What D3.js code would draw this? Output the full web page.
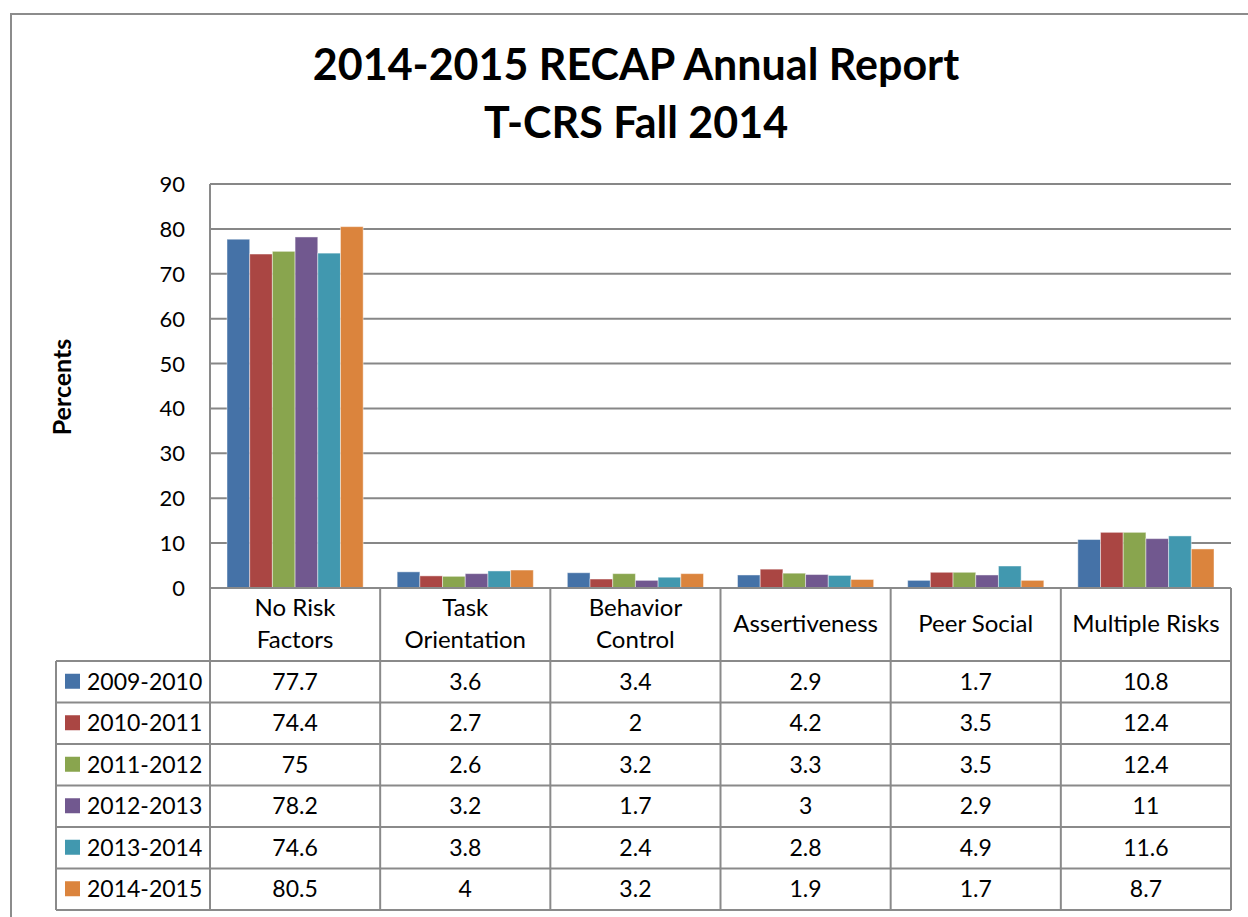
<!doctype html>
<html lang="en">
<head>
<meta charset="UTF-8">
<title>2014-2015 RECAP Annual Report</title>
<style>
  body { margin: 0; background: #fff; }
  svg { display: block; font-family: Lato, "Open Sans", sans-serif; }
  .grid line { stroke: #878787; stroke-width: 2px; }
  .tbl line { stroke: #8a8a8a; stroke-width: 2px; }
  .cell { font-size: 23px; fill: #000; text-anchor: middle; }
  .cat { font-size: 24px; fill: #000; text-anchor: middle; }
</style>
</head>
<body>
<svg width="1248" height="917"></svg>
<script src="https://d3js.org/d3.v7.min.js"></script>
<script>
// chart data
const categories = ["No Risk Factors", "Task Orientation", "Behavior Control", "Assertiveness", "Peer Social", "Multiple Risks"];
const catLines = [["No Risk", "Factors"], ["Task", "Orientation"], ["Behavior", "Control"], ["Assertiveness"], ["Peer Social"], ["Multiple Risks"]];
const years = ["2009-2010", "2010-2011", "2011-2012", "2012-2013", "2013-2014", "2014-2015"];
const v0910 = [77.7, 3.6, 3.4, 2.9, 1.7, 10.8];
const v1011 = [74.4, 2.7, 2, 4.2, 3.5, 12.4];
const v1112 = [75, 2.6, 3.2, 3.3, 3.5, 12.4];
const v1213 = [78.2, 3.2, 1.7, 3, 2.9, 11];
const v1314 = [74.6, 3.8, 2.4, 2.8, 4.9, 11.6];
const v1415 = [80.5, 4, 3.2, 1.9, 1.7, 8.7];
const yTicks = [0, 10, 20, 30, 40, 50, 60, 70, 80, 90];
const colors = ["#4572a7", "#aa4643", "#89a54e", "#71588f", "#4198af", "#db843d"];

const series = years.map((y, i) => ({ name: y, values: [v0910, v1011, v1112, v1213, v1314, v1415][i] }));

const svg = d3.select("svg");

// outer chart border
svg.append("rect")
  .attr("x", 11).attr("y", 14).attr("width", 1260).attr("height", 920)
  .attr("fill", "none").attr("stroke", "#8c8c8c").attr("stroke-width", 2);

// title
svg.append("text").attr("x", 636).attr("y", 80).attr("text-anchor", "middle")
  .style("font-size", "43px").style("font-weight", "bold").text("2014-2015 RECAP Annual Report");
svg.append("text").attr("x", 636).attr("y", 138).attr("text-anchor", "middle")
  .style("font-size", "43px").style("font-weight", "bold").text("T-CRS Fall 2014");

const plotL = 210, plotR = 1231, plotT = 184, plotB = 588;

const x = d3.scaleBand().domain(categories).range([plotL, plotR]).paddingInner(0).paddingOuter(0);
const inner = d3.scaleBand().domain(years).range([17, x.bandwidth() - 17]);
const y = d3.scaleLinear().domain([0, 90]).range([plotB, plotT]);

// gridlines
svg.append("g").attr("class", "grid")
  .selectAll("line").data(yTicks.slice(1)).join("line")
  .attr("x1", plotL).attr("x2", plotR)
  .attr("y1", d => y(d)).attr("y2", d => y(d));

// y axis labels
svg.append("g").selectAll("text").data(yTicks).join("text")
  .attr("x", 185).attr("y", d => y(d) + 8)
  .attr("text-anchor", "end").style("font-size", "22px")
  .text(d => d);

svg.append("text")
  .attr("transform", "translate(71,387) rotate(-90)")
  .attr("text-anchor", "middle").style("font-size", "25px").style("font-weight", "bold")
  .text("Percents");

// bars
const groups = svg.append("g").selectAll("g").data(series).join("g")
  .attr("fill", (d, i) => colors[i]);
groups.selectAll("rect").data(d => d.values.map((v, j) => ({ v, cat: categories[j], year: d.name })))
  .join("rect")
  .attr("x", d => x(d.cat) + inner(d.year))
  .attr("width", inner.bandwidth())
  .attr("y", d => y(d.v))
  .attr("height", d => plotB - y(d.v))
  .attr("stroke", "#ffffff").attr("stroke-opacity", 0.45).attr("stroke-width", 1);

// data table
const rowTop = 661, rowH = 41.5, legLeft = 56;
const tbl = svg.append("g").attr("class", "tbl");
const lastRow = rowTop + rowH * years.length;

// horizontal lines
tbl.append("line").attr("x1", plotL).attr("x2", plotR).attr("y1", plotB).attr("y2", plotB);
d3.range(years.length + 1).forEach(i => {
  tbl.append("line").attr("x1", legLeft).attr("x2", plotR)
    .attr("y1", rowTop + i * rowH).attr("y2", rowTop + i * rowH);
});
// vertical lines
tbl.append("line").attr("x1", legLeft).attr("x2", legLeft).attr("y1", rowTop).attr("y2", lastRow);
tbl.append("line").attr("x1", plotL).attr("x2", plotL).attr("y1", plotT).attr("y2", lastRow);
categories.forEach(c => {
  const xr = x(c) + x.bandwidth();
  tbl.append("line").attr("x1", xr).attr("x2", xr).attr("y1", plotB).attr("y2", lastRow);
});

// category labels
categories.forEach((c, j) => {
  const lines = catLines[j];
  const cx = x(c) + x.bandwidth() / 2;
  const y0 = lines.length === 2 ? 616 : 632;
  lines.forEach((t, k) => {
    svg.append("text").attr("class", "cat")
      .attr("x", cx).attr("y", y0 + k * 32).text(t);
  });
});

// rows
series.forEach((s, i) => {
  const yc = rowTop + i * rowH + rowH / 2;
  svg.append("rect").attr("x", 65).attr("y", yc - 8).attr("width", 15).attr("height", 15)
    .attr("fill", colors[i]);
  svg.append("text").attr("x", 87).attr("y", yc + 8).style("font-size", "23px").text(s.name);
  s.values.forEach((v, j) => {
    svg.append("text").attr("class", "cell")
      .attr("x", x(categories[j]) + x.bandwidth() / 2).attr("y", yc + 8).text(v);
  });
});
</script>
</body>
</html>
